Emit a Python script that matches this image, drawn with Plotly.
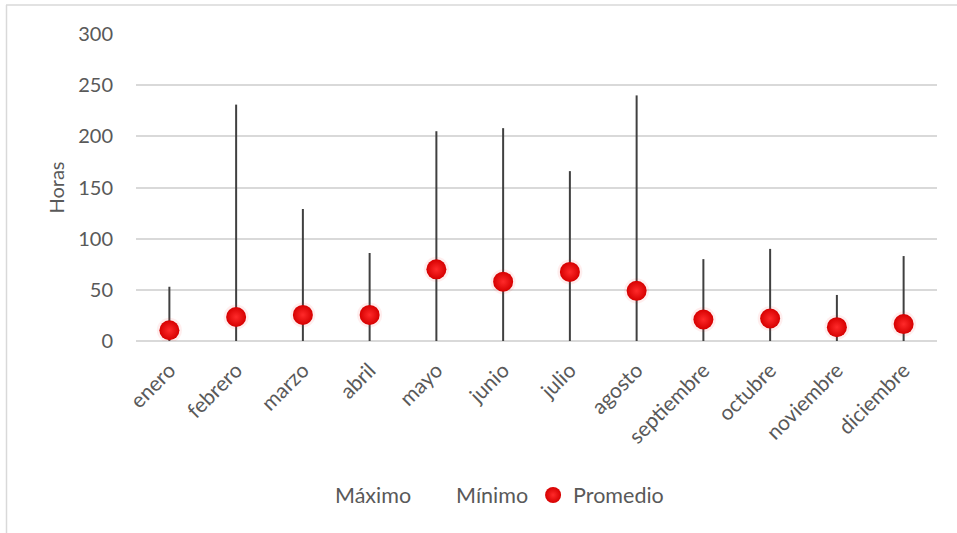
import plotly.graph_objects as go

# Monthly hours: range (min to max) and average
meses = ["enero", "febrero", "marzo", "abril", "mayo", "junio", "julio",
         "agosto", "septiembre", "octubre", "noviembre", "diciembre"]
maximo = [53, 231, 129, 86, 205, 208, 166, 240, 80, 90, 45, 83]
minimo = [0, 0, 0, 0, 0, 0, 0, 0, 0, 0, 0, 0]
promedio = [10.5, 23.5, 25.5, 25.5, 70, 58, 67.5, 49, 21, 22, 13.5, 16.5]
y_ticks = [0, 50, 100, 150, 200, 250, 300]

W, H = 957, 533
ML, MR, MT, MB = 136, 20, 34, 192
PW, PH = W - ML - MR, H - MT - MB

FONT = "Lato"
TXT = "#595959"
GRID = "#d9d9d9"

# high-low segments, one per month
seg_x, seg_y = [], []
for m, lo, hi in zip(meses, minimo, maximo):
    seg_x += [m, m, None]
    seg_y += [lo, hi, None]

fig = go.Figure()

fig.add_trace(go.Scatter(
    x=seg_x, y=seg_y, mode="lines",
    line=dict(color="#404040", width=2),
    showlegend=False, hoverinfo="skip",
))

# legend-only entries for the series that form the high-low lines
fig.add_trace(go.Scatter(
    x=meses, y=maximo, mode="markers", name="Máximo",
    marker=dict(color="rgba(0,0,0,0)", size=1),
))
fig.add_trace(go.Scatter(
    x=meses, y=minimo, mode="markers", name="Mínimo",
    marker=dict(color="rgba(0,0,0,0)", size=1),
))

# soft glow under the spheres
fig.add_trace(go.Scatter(
    x=meses, y=promedio, mode="markers",
    marker=dict(color="rgba(255,40,40,0.08)", size=25, line=dict(width=0)),
    showlegend=False, hoverinfo="skip",
))
fig.add_trace(go.Scatter(
    x=meses, y=promedio, mode="markers", name="Promedio",
    marker=dict(
        color="#d60000", size=20, line=dict(width=0),
        gradient=dict(type="radial", color="#ff2a2a"),
    ),
))

# chart-area border (top and left edges)
def px_x(p):
    return (p - ML) / PW

def px_y(p):
    return (H - MB - p) / PH

border = dict(color=GRID, width=1.5)
fig.add_shape(type="line", xref="paper", yref="paper",
              x0=px_x(6), x1=px_x(W + 5), y0=px_y(5), y1=px_y(5), line=border)
fig.add_shape(type="line", xref="paper", yref="paper",
              x0=px_x(6.5), x1=px_x(6.5), y0=px_y(5), y1=px_y(H + 5), line=border)

fig.update_layout(
    width=W, height=H,
    margin=dict(l=ML, r=MR, t=MT, b=MB),
    paper_bgcolor="white", plot_bgcolor="white",
    font=dict(family=FONT, size=20, color=TXT),
    showlegend=True,
    legend=dict(
        orientation="h", x=px_x(482), xanchor="center",
        y=px_y(495), yanchor="middle",
        font=dict(family=FONT, size=21.5, color=TXT),
        bgcolor="rgba(0,0,0,0)",
    ),
    xaxis=dict(
        type="category", categoryorder="array", categoryarray=meses,
        tickangle=-45, showgrid=False, zeroline=False, showline=False,
        ticks="", ticklabelstandoff=12,
        tickfont=dict(family=FONT, size=21, color=TXT),
        range=[-0.5, len(meses) - 0.5],
    ),
    yaxis=dict(
        range=[0, 300], tickvals=y_ticks, ticktext=[str(v) for v in y_ticks],
        showgrid=True, gridcolor=GRID, gridwidth=1.5,
        zeroline=True, zerolinecolor=GRID, zerolinewidth=1.5,
        showline=False, ticks="", ticklabelstandoff=22,
        tickfont=dict(family=FONT, size=20, color=TXT),
        title=dict(text="Horas", standoff=8,
                   font=dict(family=FONT, size=20, color=TXT)),
    ),
)

fig.write_html("out.html")
